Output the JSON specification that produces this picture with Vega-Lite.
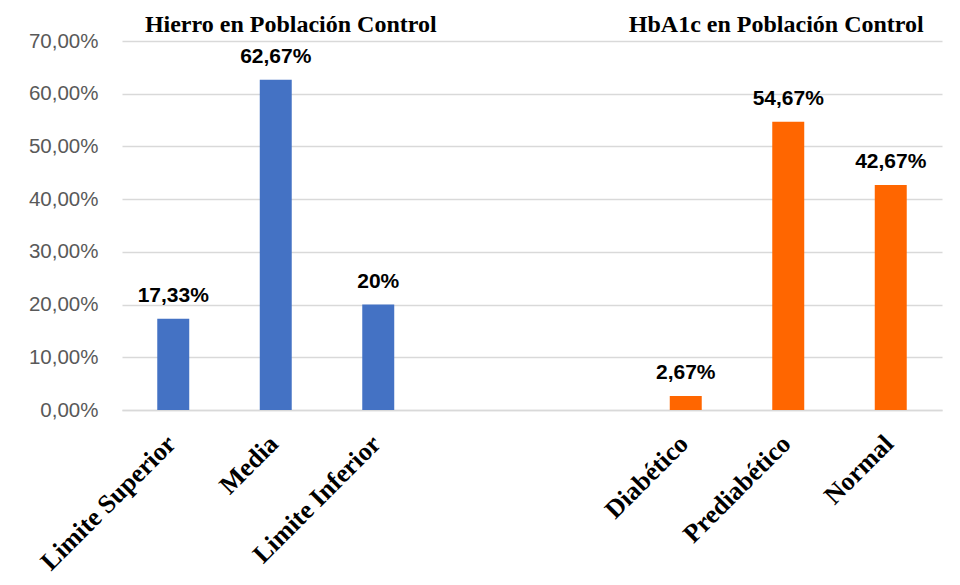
{
  "$schema": "https://vega.github.io/schema/vega-lite/v6.json",
  "width": 820,
  "height": 369,
  "autosize": {"type": "none"},
  "padding": {"left": 122, "top": 41, "right": 18, "bottom": 175},
  "background": "white",
  "config": {"view": {"stroke": null}},
  "data": {
    "values": [
      {"cat": "Limite Superior", "value": 17.33, "label": "17,33%", "group": "Hierro"},
      {"cat": "Media", "value": 62.67, "label": "62,67%", "group": "Hierro"},
      {"cat": "Limite Inferior", "value": 20, "label": "20%", "group": "Hierro"},
      {"cat": "Diabético", "value": 2.67, "label": "2,67%", "group": "HbA1c"},
      {"cat": "Prediabético", "value": 54.67, "label": "54,67%", "group": "HbA1c"},
      {"cat": "Normal", "value": 42.67, "label": "42,67%", "group": "HbA1c"}
    ]
  },
  "encoding": {
    "x": {
      "field": "cat",
      "type": "nominal",
      "sort": null,
      "scale": {
        "domain": ["Limite Superior", "Media", "Limite Inferior", "g1", "g2", "Diabético", "Prediabético", "Normal"],
        "paddingInner": 0.688,
        "paddingOuter": 0.344
      },
      "axis": {
        "title": null,
        "labelExpr": "(datum.value == 'g1' || datum.value == 'g2') ? '' : datum.label",
        "labelAngle": -45,
        "labelAlign": "right",
        "labelBaseline": "alphabetic",
        "labelFont": "Liberation Serif",
        "labelFontSize": 26,
        "labelFontWeight": "bold",
        "labelColor": "black",
        "labelLimit": 400,
        "labelPadding": 35,
        "labelOffset": 4,
        "ticks": false,
        "domainColor": "#d9d9d9",
        "domainWidth": 1.5,
        "grid": false
      }
    },
    "y": {
      "field": "value",
      "type": "quantitative",
      "scale": {"domain": [0, 70], "nice": false},
      "axis": {
        "title": null,
        "values": [0, 10, 20, 30, 40, 50, 60, 70],
        "labelExpr": "replace(format(datum.value, '.2f'), '.', ',') + '%'",
        "labelFont": "Liberation Sans",
        "labelFontSize": 20.5,
        "labelColor": "#595959",
        "labelPadding": 24,
        "domain": false,
        "ticks": false,
        "grid": true,
        "gridColor": "#d9d9d9",
        "gridWidth": 1.5
      }
    }
  },
  "layer": [
    {
      "mark": {"type": "bar"},
      "encoding": {
        "color": {
          "field": "group",
          "type": "nominal",
          "scale": {"domain": ["Hierro", "HbA1c"], "range": ["#4472C4", "#FF6600"]},
          "legend": null
        }
      }
    },
    {
      "mark": {
        "type": "text",
        "font": "Liberation Sans",
        "fontSize": 21,
        "fontWeight": "bold",
        "color": "black",
        "baseline": "alphabetic",
        "dy": -17
      },
      "encoding": {"text": {"field": "label"}}
    },
    {
      "data": {"values": [{"cat": "Media", "value": 70, "t": "Hierro en Población Control"}]},
      "mark": {
        "type": "text",
        "font": "Liberation Serif",
        "fontSize": 24,
        "fontWeight": "bold",
        "color": "black",
        "baseline": "alphabetic",
        "dx": 15,
        "dy": -9
      },
      "encoding": {"text": {"field": "t"}}
    },
    {
      "data": {"values": [{"cat": "Prediabético", "value": 70, "t": "HbA1c en Población Control"}]},
      "mark": {
        "type": "text",
        "font": "Liberation Serif",
        "fontSize": 24,
        "fontWeight": "bold",
        "color": "black",
        "baseline": "alphabetic",
        "dx": -12,
        "dy": -9
      },
      "encoding": {"text": {"field": "t"}}
    }
  ]
}
